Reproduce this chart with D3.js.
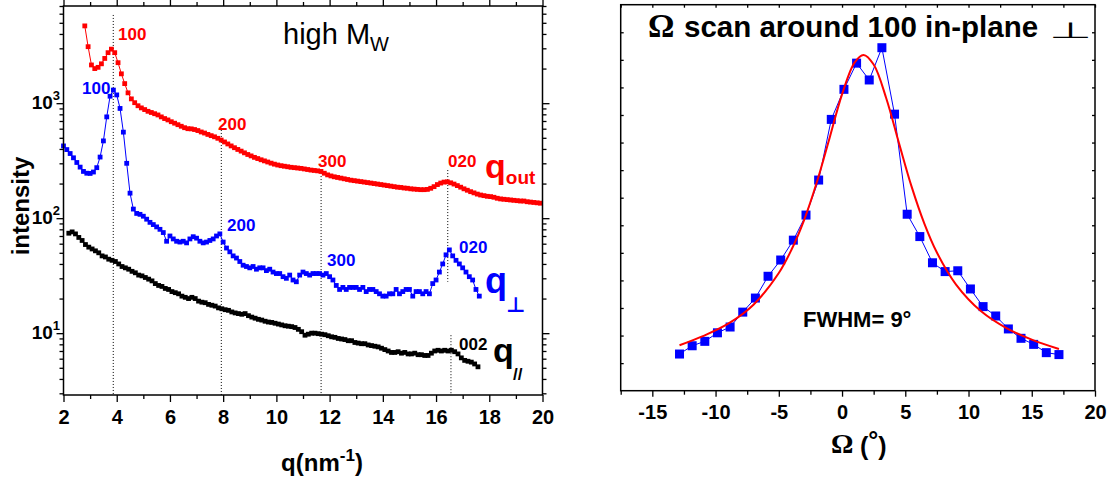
<!DOCTYPE html>
<html><head><meta charset="utf-8">
<script src="https://cdn.jsdelivr.net/npm/d3@7"></script>
<style>
body{margin:0;background:#fff;}
svg{display:block;font-family:"Liberation Sans",Arial,sans-serif;}
</style></head><body>
<svg id="chart" width="1112" height="484"></svg>
<script>
// ---------- Left panel data: intensity vs q (nm^-1), uniform q grid ----------
const qStep = 0.125;
const qStartOut = 2.8, qStartPerp = 2.0, qStartPar = 2.2;
const intensityOut = [
 4700,3100,2150,2000,2050,2200,2450,2750,2950,2750,
 2250,1800,1480,1230,1090,1010,950,910,880,850,
 830,810,790,760,735,715,690,670,650,630,
 612,600,598,590,578,562,550,535,522,510,
 495,478,460,442,425,410,396,383,370,358,
 348,338,330,322,315,308,301,295,290,286,
 283,280,277,275,273,271,268,265,262,260,
 258,255,246,238,233,229,226,223,220,217,
 214,212,210,208,206,204,202,200,198,196,
 194,192,190,188,186,185,183,182,180,179,
 178,177,177,178,182,188,196,202,206,207,
 203,198,192,186,180,175,170,166,162,159,
 157,155,154,152,149,147,146,145,144,143,
 142,141,141,139,138,137,136,135];
const intensityPerp = [
 425,395,365,335,305,278,255,246,245,252,
 275,340,470,760,1150,1300,1180,900,560,300,
 165,120,110,108,104,98,92,88,84,80,
 75,63,70,66,63,62,63,61,66,69,
 67,63,61,62,64,66,70,73,62,55,
 51,47,45,42,39,38,37,38,36,37,
 37,35,36,34,33,33,31,30,32,29,
 28,32,34,33,32,33,33,33,32,33,
 31,29,26,24,25,24,25,25,25,24,
 25,23,24,24,23,22,21,21,22,22,
 24,22,23,24,24,21,23,23,22,23,
 22,27,29,34,40,48,53,47,43,40,
 37,34,31,29,24,21];
const intensityPar = [
 74,76,73,68,64,59,56,54,52,50,
 47,46,44,43,42,40,38,37,36,34.5,
 33.5,32,31.5,30.5,29.5,28.5,27,26,25.5,24.5,
 24,23,22.5,22,21,20.5,20,20.5,20,19,
 18.6,18.4,17.8,17.5,17.2,16.6,16.3,16,15.8,15.3,
 15,14.8,14.6,14.8,14.2,13.8,13.5,13.2,13,12.7,
 12.5,12.4,12.2,12,11.8,11.6,11.5,11.4,11.2,10.8,
 10.3,9.6,9.8,10,10,9.9,9.8,9.7,9.5,9.3,
 9.2,9,8.9,8.8,8.6,8.6,8.3,8.2,8.1,8.1,
 7.9,7.8,7.7,7.6,7.4,7.2,7,6.8,6.8,6.9,
 6.7,6.8,6.6,6.6,6.7,6.5,6.5,6.4,6.4,6.7,
 7,7.1,7,7.1,7,7.1,6.9,6.6,6.1,5.8,
 5.7,5.6,5.4,5.1];
// reflection marker lines: q position, top and bottom intensity
const refQ   = [3.87, 7.93, 11.68, 16.44, 16.56];
const refTop = [5850, 585, 262, 262, 9.6];
const refBot = [2.9, 2.9, 2.9, 28, 2.9];
const qTicks = [2,4,6,8,10,12,14,16,18,20];
const qMinorTicks = [3,5,7,9,11,13,15,17,19];
const yMajorTicks = [10,100,1000];
const yExponents = ["1","2","3"];
const yMinorTicks = [3,4,5,6,7,8,9,20,30,40,50,60,70,80,90,200,300,400,500,600,700,800,900,2000,3000,4000,5000,6000,7000];

// ---------- Right panel data: Omega scan ----------
const omega = [-12.85,-11.85,-10.85,-9.85,-8.85,-7.85,-6.85,-5.85,-4.85,-3.85,-2.85,-1.85,-0.85,0.15,1.15,2.15,3.15,4.15,5.15,6.15,7.15,8.15,9.15,10.15,11.15,12.15,13.15,14.15,15.15,16.15,17.15];
const omegaIntensity = [1.33,1.63,1.79,2.10,2.31,2.85,3.36,4.15,4.74,5.46,6.37,7.64,9.84,10.93,11.88,11.27,12.44,10.03,6.40,5.59,4.64,4.32,4.35,3.69,3.05,2.71,2.24,1.90,1.68,1.38,1.31];
const fitOmega = [-12.85,-11,-9,-7,-5,-4,-3,-2,-1,0,1,1.7,2.5,3.5,4.5,5.5,6.5,7.5,9,11,13,15,17.15];
const fitIntensity = [1.65,1.98,2.43,3.12,4.27,5.11,6.19,7.55,9.14,10.75,11.91,12.18,11.83,10.60,8.98,7.40,6.07,5.01,3.86,2.88,2.27,1.85,1.51];
const omegaTicks = [-15,-10,-5,0,5,10,15,20];
const omegaMinorTicks = [-17.5,-12.5,-7.5,-2.5,2.5,7.5,12.5,17.5];
const rightYTicks = [1,2,3,4,5,6,7,8,9,10,11,12,13];

const RED = "#ff0000", BLUE = "#0000ff", BLACK = "#000000";
const svg = d3.select("#chart");

// ================= LEFT PANEL =================
const xL = d3.scaleLinear().domain([2,20]).range([63.5,542.5]);
const yL = d3.scaleLog().domain([2.9,7000]).range([395,6]);

function series(start, vals){ return vals.map((v,i)=>({q:start+i*qStep, v})); }
const sOut = series(qStartOut, intensityOut);
const sPerp = series(qStartPerp, intensityPerp);
const sPar = series(qStartPar, intensityPar);

const gL = svg.append("g");

refQ.forEach((q,i)=>{
  gL.append("line").attr("x1",xL(q)).attr("x2",xL(q))
    .attr("y1",yL(refTop[i])).attr("y2",yL(refBot[i]))
    .attr("stroke","#000").attr("stroke-width",1).attr("stroke-dasharray","1,2");
});

function drawSeries(g, data, color, xs, ys, size, lw){
  const line = d3.line().x(d=>xs(d.q)).y(d=>ys(d.v));
  g.append("path").datum(data).attr("d",line).attr("fill","none")
    .attr("stroke",color).attr("stroke-width",lw);
  g.selectAll(null).data(data).enter().append("rect")
    .attr("x",d=>xs(d.q)-size/2).attr("y",d=>ys(d.v)-size/2)
    .attr("width",size).attr("height",size).attr("fill",color);
}
drawSeries(gL, sPar, BLACK, xL, yL, 4.8, 1);
drawSeries(gL, sPerp, BLUE, xL, yL, 4.8, 1);
drawSeries(gL, sOut, RED, xL, yL, 4.8, 1);

gL.append("rect").attr("x",63.5).attr("y",6).attr("width",479).attr("height",389)
  .attr("fill","none").attr("stroke","#000").attr("stroke-width",1.5);

function styleAxis(sel){
  sel.select(".domain").remove();
  sel.selectAll(".tick line").attr("stroke","#000").attr("stroke-width",1.3);
}
gL.append("g").attr("transform","translate(0,395)")
  .call(d3.axisBottom(xL).tickValues(qMinorTicks).tickSize(4).tickFormat("")).call(styleAxis);
gL.append("g").attr("transform","translate(0,395)")
  .call(d3.axisBottom(xL).tickValues(qTicks).tickSize(7).tickPadding(8).tickFormat(d3.format("d")))
  .call(styleAxis)
  .call(g=>g.selectAll("text").attr("font-size",20).attr("font-weight","bold").attr("fill","#000")
     .attr("font-family","Liberation Sans, Arial, sans-serif"));
gL.append("g").attr("transform","translate(0,6)")
  .call(d3.axisTop(xL).tickValues(qMinorTicks).tickSize(4).tickFormat("")).call(styleAxis);
gL.append("g").attr("transform","translate(0,6)")
  .call(d3.axisTop(xL).tickValues(qTicks).tickSize(7).tickFormat("")).call(styleAxis);
gL.append("g").attr("transform","translate(63.5,0)")
  .call(d3.axisLeft(yL).tickValues(yMinorTicks).tickSize(4).tickFormat("")).call(styleAxis);
gL.append("g").attr("transform","translate(63.5,0)")
  .call(d3.axisLeft(yL).tickValues(yMajorTicks).tickSize(7).tickFormat("")).call(styleAxis);
gL.append("g").attr("transform","translate(542.5,0)")
  .call(d3.axisRight(yL).tickValues(yMinorTicks).tickSize(4).tickFormat("")).call(styleAxis);
gL.append("g").attr("transform","translate(542.5,0)")
  .call(d3.axisRight(yL).tickValues(yMajorTicks).tickSize(7).tickFormat("")).call(styleAxis);

yMajorTicks.forEach((v,i)=>{
  const t = gL.append("text").attr("x",60).attr("y",yL(v)+6)
    .attr("text-anchor","end").attr("font-weight","bold").attr("font-size",19);
  t.append("tspan").text("10");
  t.append("tspan").attr("font-size",13).attr("dy",-9).text(yExponents[i]);
});

gL.append("text").attr("transform","translate(29,206) rotate(-90)")
  .attr("text-anchor","middle").attr("font-weight","bold").attr("font-size",24).text("intensity");
const xt = gL.append("text").attr("x",322).attr("y",471).attr("text-anchor","middle")
  .attr("font-weight","bold").attr("font-size",24);
xt.append("tspan").text("q(nm");
xt.append("tspan").attr("font-size",17).attr("dy",-10).text("-1");
xt.append("tspan").attr("dy",10).text(")");

const hm = gL.append("text").attr("x",283).attr("y",44).attr("font-size",29);
hm.append("tspan").text("high M");
hm.append("tspan").attr("font-size",20).attr("dy",7).text("W");

function lab(x,y,txt,color,size){
  return gL.append("text").attr("x",x).attr("y",y).attr("fill",color)
    .attr("font-weight","bold").attr("font-size",size||17).text(txt);
}
lab(118,40,"100",RED); lab(218,130,"200",RED); lab(318,167,"300",RED); lab(448,167,"020",RED);
lab(82,94,"100",BLUE); lab(227,231,"200",BLUE); lab(327,266,"300",BLUE); lab(459,253,"020",BLUE);
lab(459,350,"002",BLACK);
const qo = gL.append("text").attr("x",485).attr("y",178).attr("fill",RED).attr("font-weight","bold").attr("font-size",34);
qo.append("tspan").text("q");
qo.append("tspan").attr("font-size",19).attr("dy",6).text("out");
gL.append("text").attr("x",485).attr("y",293).attr("fill",BLUE).attr("font-weight","bold").attr("font-size",36).text("q");
gL.append("text").attr("x",506).attr("y",312).attr("fill",BLUE).attr("font-weight","bold").attr("font-size",21)
  .attr("font-family","DejaVu Sans").text("\u22A5");
gL.append("text").attr("x",493).attr("y",362).attr("fill",BLACK).attr("font-weight","bold").attr("font-size",34).text("q");
gL.append("text").attr("x",513).attr("y",380).attr("fill",BLACK).attr("font-weight","bold").attr("font-size",17).text("//");

// ================= RIGHT PANEL =================
const xR = d3.scaleLinear().domain([-17.5,20]).range([620.7,1095]);
const yR = d3.scaleLinear().domain([0,14]).range([390.7,4.7]);
const gR = svg.append("g");

const omegaData = omega.map((o,i)=>({q:o, v:omegaIntensity[i]}));
const fitData = fitOmega.map((o,i)=>({q:o, v:fitIntensity[i]}));
drawSeries(gR, omegaData, BLUE, xR, yR, 9, 1);
gR.append("path").datum(fitData)
  .attr("d", d3.line().x(d=>xR(d.q)).y(d=>yR(d.v)).curve(d3.curveCatmullRom))
  .attr("fill","none").attr("stroke",RED).attr("stroke-width",2);

gR.append("rect").attr("x",620.7).attr("y",4.7).attr("width",1095-620.7).attr("height",386)
  .attr("fill","none").attr("stroke","#000").attr("stroke-width",1.5);

gR.append("g").attr("transform","translate(0,390.7)")
  .call(d3.axisBottom(xR).tickValues(omegaMinorTicks).tickSize(4).tickFormat("")).call(styleAxis);
gR.append("g").attr("transform","translate(0,390.7)")
  .call(d3.axisBottom(xR).tickValues(omegaTicks).tickSize(6).tickPadding(8).tickFormat(d3.format("d")))
  .call(styleAxis)
  .call(g=>g.selectAll("text").attr("font-size",20).attr("font-weight","bold").attr("fill","#000")
     .attr("font-family","Liberation Sans, Arial, sans-serif").text(d=>d<0?"-"+Math.abs(d):d));
gR.append("g").attr("transform","translate(0,4.7)")
  .call(d3.axisBottom(xR).tickValues(omegaTicks.concat(omegaMinorTicks)).tickSize(3).tickFormat("")).call(styleAxis);
gR.append("g").attr("transform","translate(620.7,0)")
  .call(d3.axisRight(yR).tickValues(rightYTicks).tickSize(3).tickFormat("")).call(styleAxis);
gR.append("g").attr("transform","translate(1095,0)")
  .call(d3.axisLeft(yR).tickValues(rightYTicks).tickSize(3).tickFormat("")).call(styleAxis);

// title
gR.append("text").attr("x",648).attr("y",37).attr("font-family","Liberation Serif")
  .attr("font-weight","bold").attr("font-size",33).text("\u03A9");
gR.append("text").attr("x",684).attr("y",37).attr("font-weight","bold").attr("font-size",29.5)
  .text("scan around 100 in-plane");
gR.append("text").attr("transform","translate(1049,38) scale(1.3,0.58)")
  .attr("font-family","DejaVu Sans").attr("font-size",38).text("\u22A5");
gR.append("text").attr("x",803).attr("y",327).attr("font-weight","bold").attr("font-size",22).text("FWHM= 9°");
gR.append("text").attr("x",831).attr("y",453).attr("font-family","Liberation Serif")
  .attr("font-weight","bold").attr("font-size",28).text("\u03A9");
const xr = gR.append("text").attr("x",860).attr("y",455).attr("font-weight","bold").attr("font-size",25);
xr.append("tspan").text("(");
xr.append("tspan").attr("dy",-6).text("°");
xr.append("tspan").attr("dy",6).text(")");
</script>
</body></html>
